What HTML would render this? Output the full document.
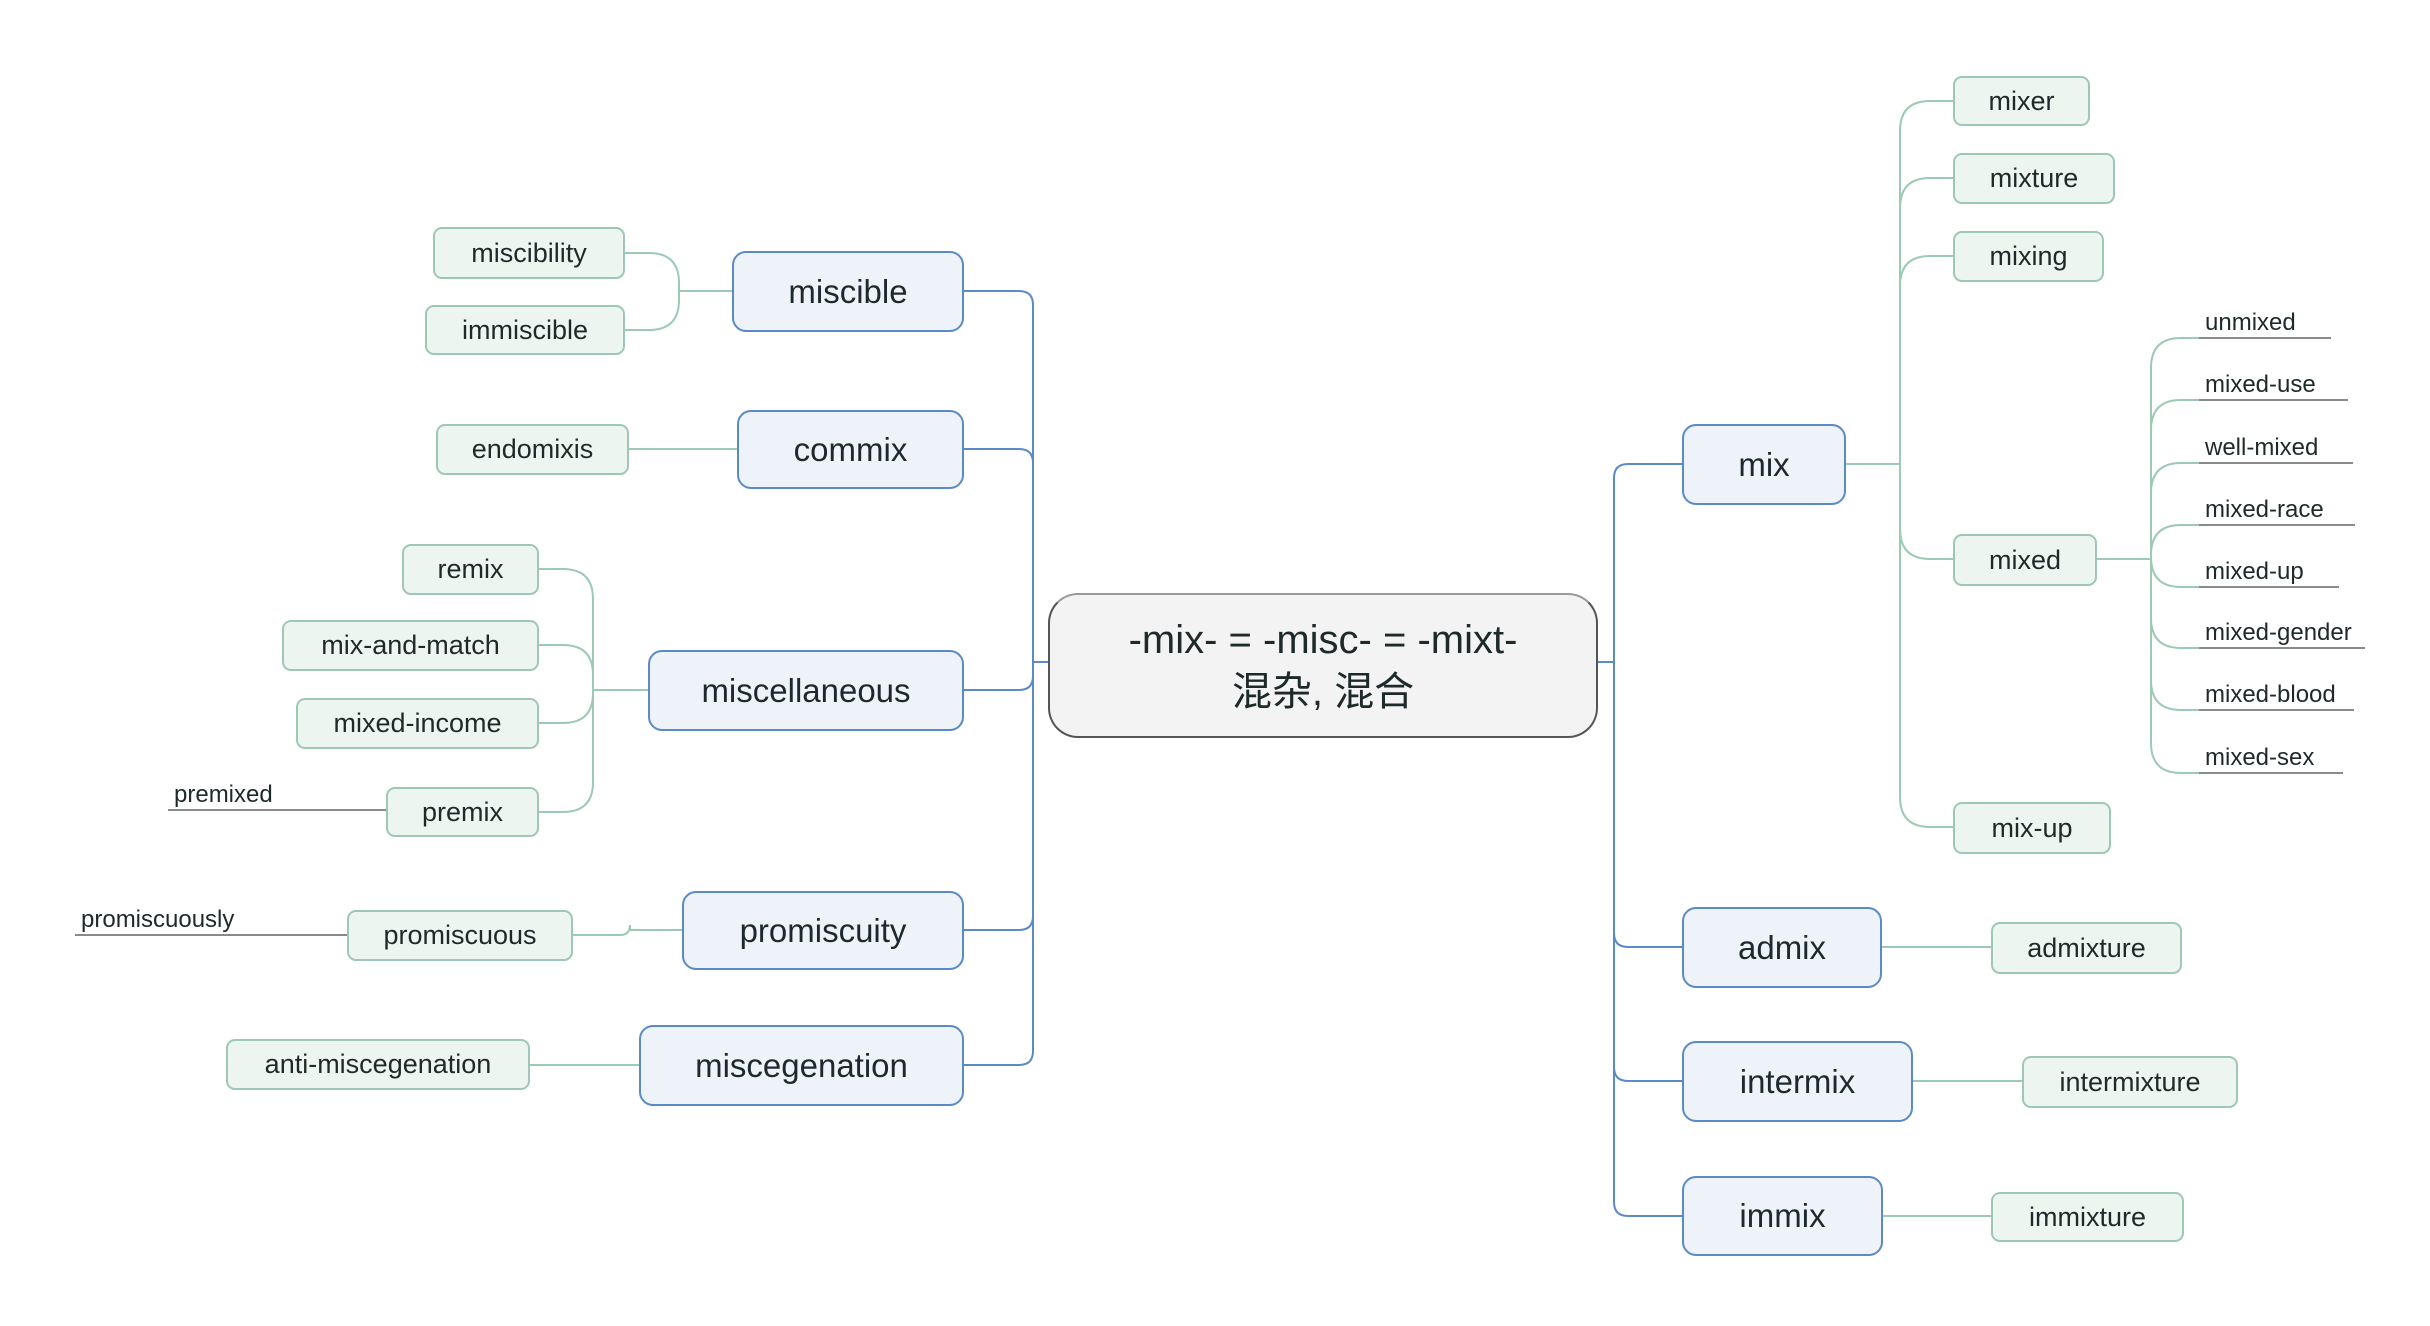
<!DOCTYPE html>
<html><head><meta charset="utf-8">
<style>
html,body{margin:0;padding:0;background:#fff;width:2430px;height:1326px;overflow:hidden;position:relative;font-family:"Liberation Sans","Noto Sans CJK SC",sans-serif;color:#1e2a2a}
.n{position:absolute;box-sizing:border-box;display:flex;align-items:center;justify-content:center;white-space:nowrap}
.c{background:#f3f3f3;border:2px solid #555;border-top-color:#9a9a9a;border-radius:30px;font-size:40px;flex-direction:column;line-height:52px}
.l1{background:#eef3fa;border:2px solid #5b8ac6;border-radius:14px;font-size:33px}
.l2{background:#edf5f0;border:2px solid #9dc8b5;border-radius:9px;font-size:27px}
.u{position:absolute;font-size:24px;white-space:nowrap;border-bottom:2px solid #8a8a8a;box-sizing:border-box;padding-left:6px;line-height:28px}
svg{position:absolute;left:0;top:0}
</style></head><body>
<svg id="s" width="2430" height="1326"></svg>

<div class="n c" style="left:1048px;top:593px;width:550px;height:145px"><div>-mix- = -misc- = -mixt-</div><div>混杂, 混合</div></div>

<div class="n l1" style="left:732px;top:251px;width:232px;height:81px">miscible</div>
<div class="n l1" style="left:737px;top:410px;width:227px;height:79px">commix</div>
<div class="n l1" style="left:648px;top:650px;width:316px;height:81px">miscellaneous</div>
<div class="n l1" style="left:682px;top:891px;width:282px;height:79px">promiscuity</div>
<div class="n l1" style="left:639px;top:1025px;width:325px;height:81px">miscegenation</div>

<div class="n l1" style="left:1682px;top:424px;width:164px;height:81px">mix</div>
<div class="n l1" style="left:1682px;top:907px;width:200px;height:81px">admix</div>
<div class="n l1" style="left:1682px;top:1041px;width:231px;height:81px">intermix</div>
<div class="n l1" style="left:1682px;top:1176px;width:201px;height:80px">immix</div>

<div class="n l2" style="left:433px;top:227px;width:192px;height:52px">miscibility</div>
<div class="n l2" style="left:425px;top:305px;width:200px;height:50px">immiscible</div>
<div class="n l2" style="left:436px;top:424px;width:193px;height:51px">endomixis</div>
<div class="n l2" style="left:402px;top:544px;width:137px;height:51px">remix</div>
<div class="n l2" style="left:282px;top:620px;width:257px;height:51px">mix-and-match</div>
<div class="n l2" style="left:296px;top:698px;width:243px;height:51px">mixed-income</div>
<div class="n l2" style="left:386px;top:787px;width:153px;height:50px">premix</div>
<div class="n l2" style="left:347px;top:910px;width:226px;height:51px">promiscuous</div>
<div class="n l2" style="left:226px;top:1039px;width:304px;height:51px">anti-miscegenation</div>

<div class="n l2" style="left:1953px;top:76px;width:137px;height:50px">mixer</div>
<div class="n l2" style="left:1953px;top:153px;width:162px;height:51px">mixture</div>
<div class="n l2" style="left:1953px;top:231px;width:151px;height:51px">mixing</div>
<div class="n l2" style="left:1953px;top:534px;width:144px;height:52px">mixed</div>
<div class="n l2" style="left:1953px;top:802px;width:158px;height:52px">mix-up</div>
<div class="n l2" style="left:1991px;top:922px;width:191px;height:52px">admixture</div>
<div class="n l2" style="left:2022px;top:1056px;width:216px;height:52px">intermixture</div>
<div class="n l2" style="left:1991px;top:1192px;width:193px;height:50px">immixture</div>

<div class="u" style="left:168px;top:781px;width:218px">premixed</div>
<div class="u" style="left:75px;top:906px;width:272px">promiscuously</div>

<div class="u" style="left:2199px;top:309px;width:132px">unmixed</div>
<div class="u" style="left:2199px;top:371px;width:149px">mixed-use</div>
<div class="u" style="left:2199px;top:434px;width:154px">well-mixed</div>
<div class="u" style="left:2199px;top:496px;width:156px">mixed-race</div>
<div class="u" style="left:2199px;top:558px;width:140px">mixed-up</div>
<div class="u" style="left:2199px;top:619px;width:166px">mixed-gender</div>
<div class="u" style="left:2199px;top:681px;width:155px">mixed-blood</div>
<div class="u" style="left:2199px;top:744px;width:144px">mixed-sex</div>

<script>
var s=document.getElementById('s'),h='';
function c(px,py,tx,cx,cy,col,r){
  r=r||14;var d;
  if(Math.abs(cy-py)<3){d='M'+px+' '+py+' H'+cx;}
  else{var dir=cx>tx?1:-1,vy=cy>py?1:-1;
   d='M'+px+' '+py+' H'+tx+' V'+(cy-vy*r)+' Q'+tx+' '+cy+' '+(tx+dir*r)+' '+cy+' H'+cx;}
  h+='<path d="'+d+'" fill="none" stroke="'+col+'" stroke-width="2"/>';
}
var B='#5b8ac6',G='#9ccab4';
[291,449,690,930,1065].forEach(function(y){c(1048,662,1033,964,y,B,14);});
[464,947,1081,1216].forEach(function(y){c(1598,662,1614,1682,y,B,14);});
c(732,291,679,625,253,G,30);c(732,291,679,625,330,G,30);
c(737,449,680,629,449,G);
[569,645,723,812].forEach(function(y){c(648,690,593,539,y,G,30);});
c(682,930,630,573,935,G,10);
c(639,1065,600,530,1065,G);
[101,178,256,559,827].forEach(function(y){c(1846,464,1900,1953,y,G,30);});
c(1882,947,1940,1991,948,G,4);
c(1913,1081,1970,2022,1082,G,4);
c(1883,1216,1940,1991,1217,G,4);
[338,400,463,525,587,648,710,773].forEach(function(y){c(2097,559,2151,2199,y,G,30);});
s.innerHTML=h;
</script>
</body></html>
